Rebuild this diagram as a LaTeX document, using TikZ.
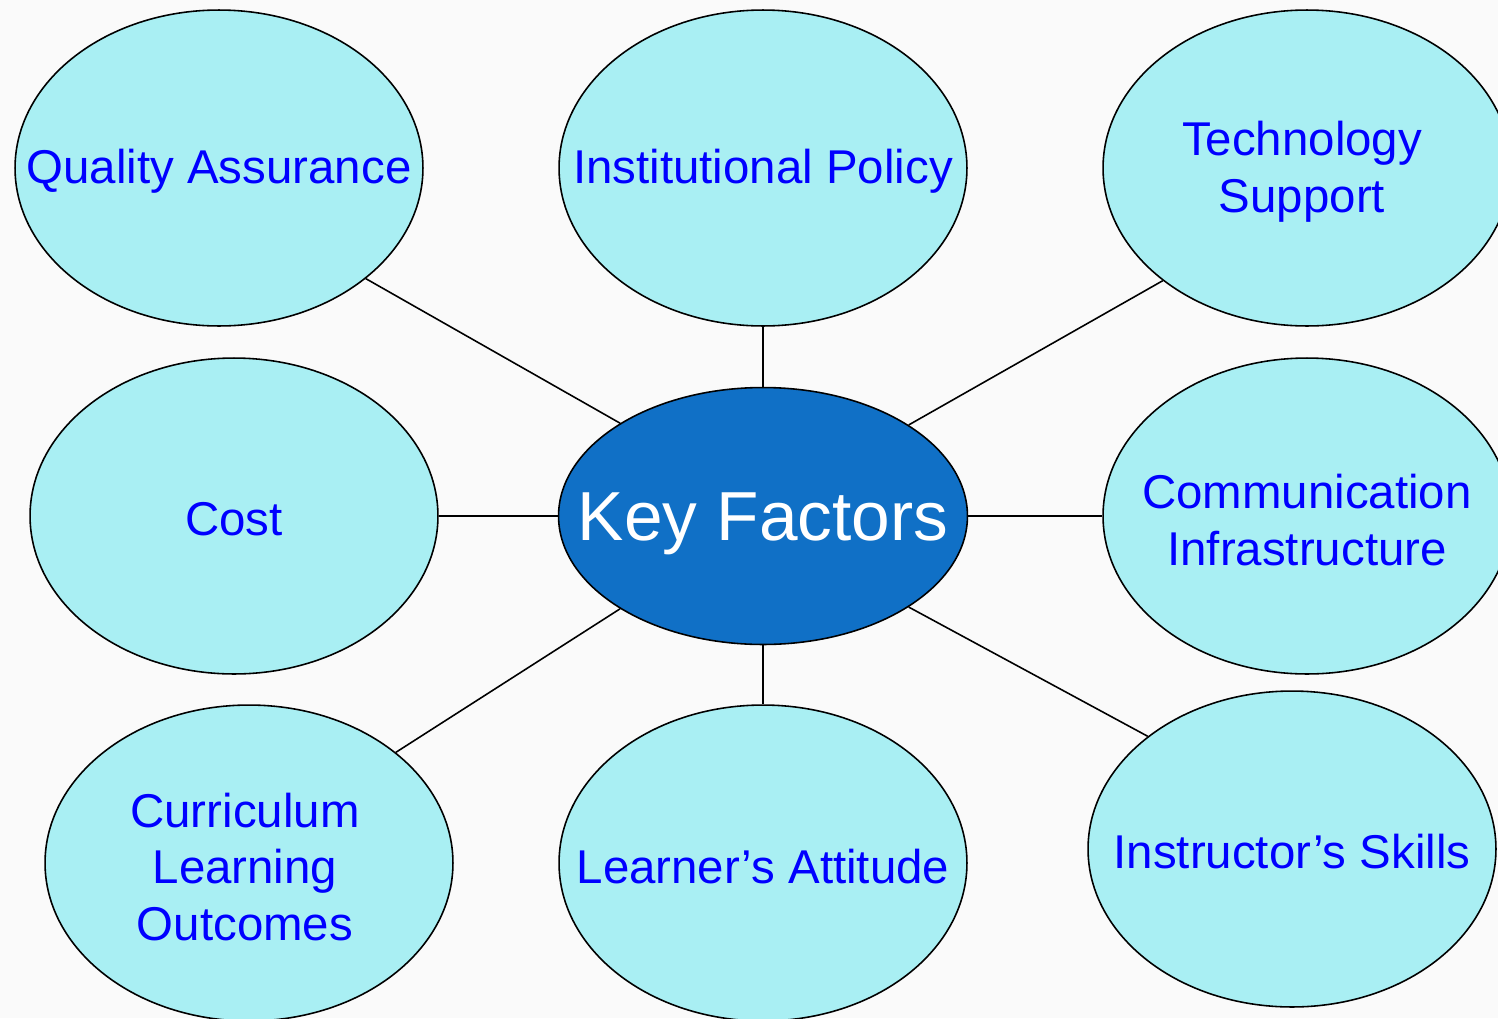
\documentclass[tikz,border=0pt]{standalone}
\usepackage{fontspec}
\setmainfont{Liberation Sans}
\usetikzlibrary{shapes.geometric}
\definecolor{bubble}{HTML}{A9EFF3}
\definecolor{core}{HTML}{1070C6}
\definecolor{txt}{HTML}{0000FF}
\definecolor{bg}{HTML}{FAFAFA}
\tikzset{
  bubble/.style={ellipse, draw=black, line width=0.9pt, fill=bubble, inner sep=0pt,
    minimum width=8.16cm, minimum height=6.32cm},
  btext/.style={font=\fontsize{27}{32.4}\selectfont, text=txt, align=center, inner sep=0pt},
  corenode/.style={ellipse, draw=black, line width=0.9pt, fill=core, inner sep=0pt,
    minimum width=8.18cm, minimum height=5.14cm},
  link/.style={draw=black, line width=0.9pt}
}
\begin{document}
\begin{tikzpicture}[x=0.02cm, y=-0.02cm]
\fill[bg] (0,0) rectangle (1498,1018);
\clip (0,0) rectangle (1498,1018);
\node[bubble] (qa) at (219,168) {};
\node[bubble] (ip) at (763,168) {};
\node[bubble] (ts) at (1307,168) {};
\node[bubble] (co) at (234,516) {};
\node[bubble] (ci) at (1307,516) {};
\node[bubble] (cl) at (249,863) {};
\node[bubble] (la) at (763,863) {};
\node[bubble] (is) at (1292,849) {};
\node[corenode] (kf) at (763,516) {};
\draw[link] (kf.147.9) -- (qa.-37.9);
\draw[link] (kf.north) -- (ip.south);
\draw[link] (kf.32.1) -- (ts.-142);
\draw[link] (kf.west) -- (co.east);
\draw[link] (kf.east) -- (ci.west);
\draw[link] (kf.-147.6) -- (cl.37.7);
\draw[link] (kf.south) -- (la.north);
\draw[link] (kf.-32.3) -- (is.142.1);
\node[btext] (tqa) at (219,171) {Quality Assurance};
\node[btext] (tip) at (763,171) {Institutional Policy};
\node[btext] (tts) at (1302,172) {Technology\\Support};
\node[btext] (tco) at (234,519) {Cost};
\node[btext] (tci) at (1307,520) {Communication\\Infrastructure};
\node[btext] (tcl) at (245,867) {Curriculum\\Learning\\Outcomes};
\node[btext] (tla) at (763,867) {Learner’s Attitude};
\node[btext] (tis) at (1292,852) {Instructor’s Skills};
\node[btext, text=white, font=\fontsize{39.5}{46}\selectfont] (tkf) at (763,524) {Key Factors};
\end{tikzpicture}
\end{document}
